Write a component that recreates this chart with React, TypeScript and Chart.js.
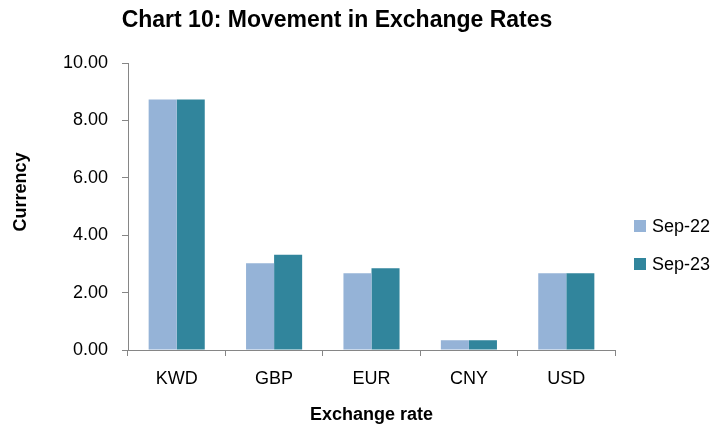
import React, { useEffect, useRef } from "react";
import { Chart, registerables } from "chart.js";

Chart.register(...registerables);

const chartTitle = "Chart 10: Movement in Exchange Rates";
const categories = ["KWD", "GBP", "EUR", "CNY", "USD"];
const seriesLabels = ["Sep-22", "Sep-23"];
const sep22Values = [8.73, 3.02, 2.67, 0.34, 2.67];
const sep23Values = [8.73, 3.32, 2.85, 0.34, 2.67];
const seriesColors = ["#95B3D7", "#31859C"];
const yAxisTitle = "Currency";
const xAxisTitle = "Exchange rate";

const FONT = "'Liberation Sans', Arial, sans-serif";

const overlayPlugin = {
  id: "overlayPlugin",
  afterDraw(chart: any) {
    const ctx = chart.ctx;
    ctx.save();
    // title
    ctx.fillStyle = "#000";
    ctx.font = `bold 23px ${FONT}`;
    ctx.textAlign = "center";
    ctx.textBaseline = "alphabetic";
    ctx.fillText(chartTitle, 337, 27);
    // y axis title
    ctx.save();
    ctx.translate(21, 192);
    ctx.rotate(-Math.PI / 2);
    ctx.font = `bold 18px ${FONT}`;
    ctx.textAlign = "center";
    ctx.textBaseline = "middle";
    ctx.fillText(yAxisTitle, 0, 0);
    ctx.restore();
    // legend
    ctx.font = `18px ${FONT}`;
    ctx.textAlign = "left";
    ctx.textBaseline = "middle";
    const centers = [226, 264];
    chart.data.datasets.forEach((ds: any, i: number) => {
      const cy = centers[i];
      ctx.fillStyle = ds.backgroundColor;
      ctx.fillRect(634, cy - 6, 12, 12);
      ctx.fillStyle = "#000";
      ctx.fillText(ds.label, 652, cy + 1);
    });
    ctx.restore();
  },
};

export default function App() {
  const canvasRef = useRef<HTMLCanvasElement | null>(null);

  useEffect(() => {
    if (!canvasRef.current) return;
    Chart.defaults.font.family = FONT;
    Chart.defaults.color = "#000";
    const chart = new Chart(canvasRef.current, {
      type: "bar",
      data: {
        labels: categories,
        datasets: [
          {
            label: seriesLabels[0],
            data: sep22Values,
            backgroundColor: seriesColors[0],
            categoryPercentage: 0.576,
            barPercentage: 1,
          },
          {
            label: seriesLabels[1],
            data: sep23Values,
            backgroundColor: seriesColors[1],
            categoryPercentage: 0.576,
            barPercentage: 1,
          },
        ],
      },
      options: {
        animation: false,
        responsive: false,
        maintainAspectRatio: false,
        layout: { padding: { top: 63, right: 97, left: 0, bottom: 0 } },
        plugins: {
          legend: { display: false },
          title: { display: false },
          tooltip: { enabled: false },
        },
        scales: {
          x: {
            afterFit: (s: any) => {
              s.height = 78;
            },
            grid: {
              display: true,
              drawOnChartArea: false,
              drawTicks: true,
              tickLength: 6,
              color: "#868686",
              offset: true,
            },
            border: { display: true, color: "#868686", width: 1 },
            ticks: { font: { size: 18 }, color: "#000", padding: 12 },
            title: {
              display: true,
              text: xAxisTitle,
              font: { size: 18, weight: "bold" },
              color: "#000",
              padding: { top: 0, bottom: 2 },
            },
          },
          y: {
            min: 0,
            max: 10,
            afterFit: (s: any) => {
              s.width = 128;
            },
            grid: {
              display: true,
              drawOnChartArea: false,
              drawTicks: true,
              tickLength: 6,
              color: "#868686",
            },
            border: { display: true, color: "#868686", width: 1 },
            ticks: {
              stepSize: 2,
              font: { size: 18 },
              color: "#000",
              padding: 14,
              callback: (v: any) => Number(v).toFixed(2),
            },
            title: { display: false },
          },
        },
      },
      plugins: [overlayPlugin],
    });
    return () => chart.destroy();
  }, []);

  return (
    <div style={{ position: "fixed", left: 0, top: 0, width: 712, height: 428, background: "#fff" }}>
      <canvas ref={canvasRef} width={712} height={428} style={{ width: 712, height: 428, display: "block" }} />
    </div>
  );
}
